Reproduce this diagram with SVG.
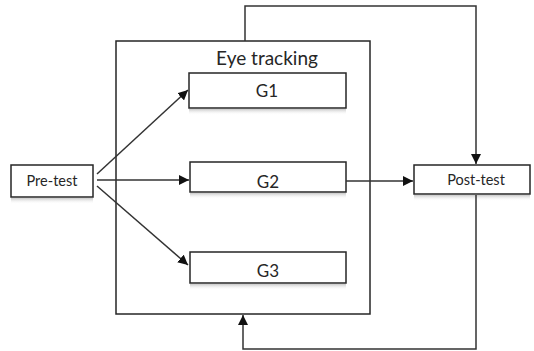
<svg xmlns="http://www.w3.org/2000/svg" width="534" height="351" viewBox="0 0 534 351">
<style>
.box{fill:#fff;stroke:#262626;stroke-width:1.5}
.big{fill:none;stroke:#262626;stroke-width:1.5}
.lbl{font-family:Lato,"Open Sans",sans-serif;fill:#262626;text-anchor:middle}
.con{fill:none;stroke:#333;stroke-width:1.5}
</style>
<defs>
<marker id="ah" viewBox="0 0 10 10" refX="10" refY="5" markerWidth="10" markerHeight="10" markerUnits="userSpaceOnUse" orient="auto">
<path d="M0,0 L10,5 L0,10 z" fill="#111"/>
</marker>
<linearGradient id="fade" x1="0" y1="0" x2="0" y2="1">
<stop offset="0" stop-color="#bbb" stop-opacity="0.8"/>
<stop offset="1" stop-color="#fff" stop-opacity="0"/>
</linearGradient>
</defs>
<g id="eye-tracking">
<rect class="big" x="116" y="41" width="254" height="273"/>
<text class="lbl" x="267" y="65" font-size="19">Eye tracking</text>
</g>
<g id="pre-test">
<rect class="box" x="11" y="165" width="82" height="32"/>
<rect x="11" y="198" width="82" height="6" fill="url(#fade)"/>
<text class="lbl" x="52" y="186" font-size="14.5">Pre-test</text>
</g>
<g id="g1">
<rect class="box" x="189" y="73" width="157" height="35"/>
<rect x="189" y="109" width="157" height="6" fill="url(#fade)"/>
<text class="lbl" x="267" y="97" font-size="17">G1</text>
</g>
<g id="g2">
<rect class="box" x="190" y="162" width="156" height="30"/>
<rect x="190" y="193" width="156" height="6" fill="url(#fade)"/>
<text class="lbl" x="268" y="188" font-size="17">G2</text>
</g>
<g id="g3">
<rect class="box" x="190" y="252" width="156" height="31"/>
<rect x="190" y="284" width="156" height="6" fill="url(#fade)"/>
<text class="lbl" x="268" y="277" font-size="17">G3</text>
</g>
<g id="post-test">
<rect class="box" x="414" y="165" width="116" height="29"/>
<rect x="414" y="195" width="116" height="6" fill="url(#fade)"/>
<text class="lbl" x="476" y="185" font-size="14.5">Post-test</text>
</g>
<g id="connectors">
<line class="con" x1="97" y1="174" x2="188" y2="90" marker-end="url(#ah)"/>
<line class="con" x1="97" y1="180" x2="189" y2="180" marker-end="url(#ah)"/>
<line class="con" x1="97" y1="186" x2="188" y2="265" marker-end="url(#ah)"/>
<line class="con" x1="346" y1="181" x2="413" y2="181" marker-end="url(#ah)"/>
<polyline class="con" points="245,41 245,6 476,6 476,164" marker-end="url(#ah)"/>
<polyline class="con" points="476,195 476,349 243,349 243,315" marker-end="url(#ah)"/>
</g>
</svg>
